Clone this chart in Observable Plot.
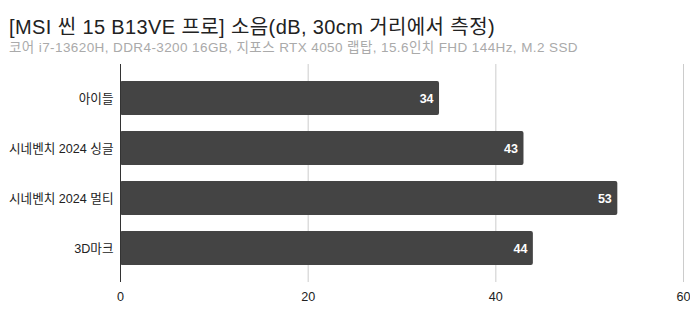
<!DOCTYPE html>
<html><head><meta charset="utf-8">
<script src="https://cdn.jsdelivr.net/npm/d3@7"></script>
<script src="https://cdn.jsdelivr.net/npm/@observablehq/plot@0.6"></script>
<style>
body{margin:0;background:#fff;font-family:"Liberation Sans",Arial,"Noto Sans CJK KR",sans-serif;}
#wrap{width:690px;height:310px;position:relative;overflow:hidden;}
#title{position:absolute;left:9px;top:11px;font-size:20px;color:#222;white-space:nowrap;}
#sub{position:absolute;left:9px;top:36px;font-size:13.5px;color:#aaa;white-space:nowrap;}
#chart{position:absolute;left:0;top:56px;}
</style></head>
<body><div id="wrap">
<div id="title">[MSI 씬 15 B13VE 프로] 소음(dB, 30cm 거리에서 측정)</div>
<div id="sub">코어 i7-13620H, DDR4-3200 16GB, 지포스 RTX 4050 랩탑, 15.6인치 FHD 144Hz, M.2 SSD</div>
<div id="chart"></div>
</div>
<script>
const categories = ["아이들", "시네벤치 2024 싱글", "시네벤치 2024 멀티", "3D마크"];
const values = [34, 43, 53, 44];
const xTicks = [0, 20, 40, 60];

const data = categories.map((c, i) => ({name: c, value: values[i]}));

function fitWidth(el, target) {
  const n = el.textContent.length;
  const w = el.getBoundingClientRect().width;
  el.style.letterSpacing = ((target - w) / n) + "px";
}
fitWidth(document.getElementById("title"), 486);
fitWidth(document.getElementById("sub"), 569);

const chart = Plot.plot({
  width: 690,
  height: 254,
  marginLeft: 120,
  marginRight: 7,
  marginTop: 8,
  marginBottom: 28,
  style: {fontFamily: '"Liberation Sans", Arial, "Noto Sans CJK KR", sans-serif', fontSize: "12.6px", color: "#222"},
  x: {domain: [0, 60], ticks: xTicks, label: null, tickSize: 0, tickPadding: 10},
  y: {domain: categories, label: null, padding: 0.33, tickSize: 0, tickPadding: 7},
  marks: [
    Plot.gridX(xTicks.filter(d => d !== 0), {stroke: "#ccc", strokeOpacity: 1}),
    Plot.barX(data, {x: "value", y: "name", fill: "#444", rx: 2}),
    Plot.ruleX([0], {stroke: "#333"}),
    Plot.text(data, {x: "value", y: "name", text: d => String(d.value), textAnchor: "end", dx: -6, fill: "#fff", fontWeight: "bold", fontSize: 12.5})
  ]
});
document.getElementById("chart").appendChild(chart);
</script>
</body></html>
